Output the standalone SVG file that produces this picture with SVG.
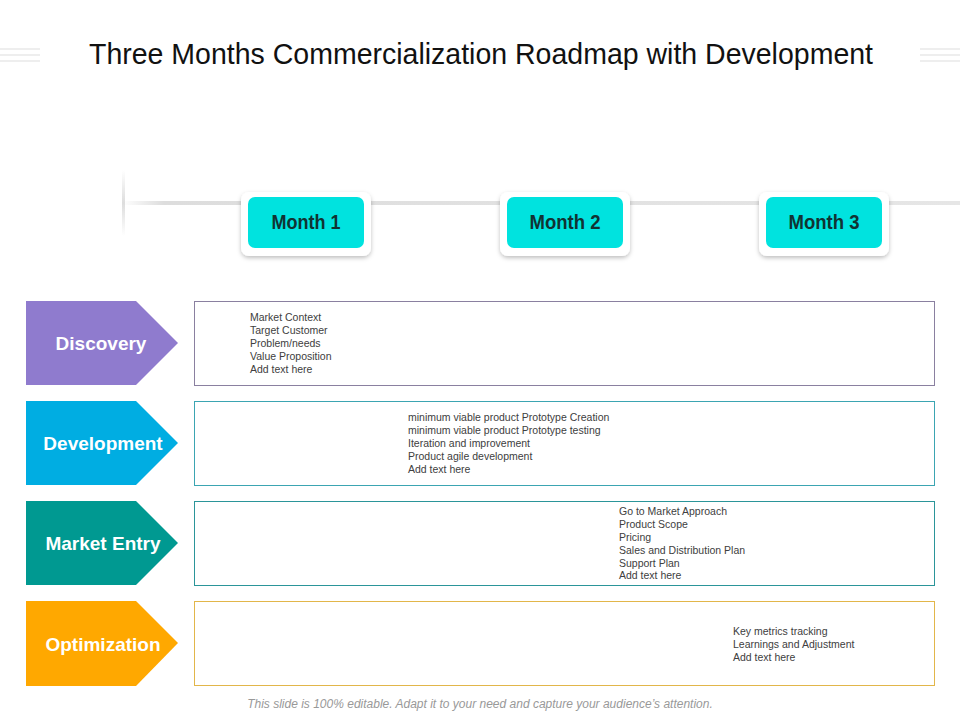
<svg xmlns="http://www.w3.org/2000/svg" width="960" height="720" viewBox="0 0 960 720">
<defs>
<style>
.t{font-family:"Liberation Sans",Arial,sans-serif;font-size:10.5px;fill:#404040}
.lab{font-family:"Liberation Sans",Arial,sans-serif;font-size:19px;font-weight:bold;fill:#fff}
.mon{font-family:"Liberation Sans",Arial,sans-serif;font-size:20px;font-weight:bold;fill:#113333}
.box{fill:#fff;stroke-width:1}
</style>
<filter id="sh" x="-20%" y="-20%" width="140%" height="150%"><feDropShadow dx="0" dy="2" stdDeviation="2" flood-color="#000" flood-opacity="0.25"/></filter>
<linearGradient id="hl" x1="0" x2="1"><stop offset="0" stop-color="#ddd" stop-opacity="0"/><stop offset="0.05" stop-color="#ddd"/><stop offset="1" stop-color="#e6e6e6"/></linearGradient>
<linearGradient id="vl" x1="0" y1="0" x2="0" y2="1"><stop offset="0" stop-color="#ddd" stop-opacity="0"/><stop offset="0.5" stop-color="#ddd"/><stop offset="1" stop-color="#ddd" stop-opacity="0"/></linearGradient>
</defs>
<rect width="960" height="720" fill="#fff"/>
<g id="decor">
<rect x="0" y="48" width="40" height="2" fill="#eee"/><rect x="0" y="54" width="40" height="2" fill="#eee"/><rect x="0" y="60" width="40" height="2" fill="#eee"/>
<rect x="920" y="48" width="40" height="2" fill="#eee"/><rect x="920" y="54" width="40" height="2" fill="#eee"/><rect x="920" y="60" width="40" height="2" fill="#eee"/>
<rect x="122" y="201" width="838" height="4" fill="url(#hl)"/>
<rect x="122" y="170" width="3" height="66" fill="url(#vl)"/>
</g>
<text x="481" y="64" text-anchor="middle" font-family="Liberation Sans,Arial,sans-serif" font-size="29" fill="#111" textLength="784" lengthAdjust="spacingAndGlyphs">Three Months Commercialization Roadmap with Development</text>
<g id="month1"><rect x="241" y="192" width="130" height="64" rx="8" fill="#fff" filter="url(#sh)"/><rect x="248" y="197" width="116" height="51" rx="7" fill="#00e3df"/><text class="mon" x="306" y="229" text-anchor="middle" textLength="69" lengthAdjust="spacingAndGlyphs">Month 1</text></g>
<g id="month2"><rect x="500" y="192" width="130" height="64" rx="8" fill="#fff" filter="url(#sh)"/><rect x="507" y="197" width="116" height="51" rx="7" fill="#00e3df"/><text class="mon" x="565" y="229" text-anchor="middle" textLength="71" lengthAdjust="spacingAndGlyphs">Month 2</text></g>
<g id="month3"><rect x="759" y="192" width="130" height="64" rx="8" fill="#fff" filter="url(#sh)"/><rect x="766" y="197" width="116" height="51" rx="7" fill="#00e3df"/><text class="mon" x="824" y="229" text-anchor="middle" textLength="71" lengthAdjust="spacingAndGlyphs">Month 3</text></g>
<g id="connectors"/>
<g id="discovery"><polygon points="26,301 136,301 178,343 136,385 26,385" fill="#8f7bce"/><text class="lab" x="101" y="350" text-anchor="middle">Discovery</text></g>
<g id="discovery-box"><rect class="box" x="194.5" y="301.5" width="740" height="84" stroke="#8a80a0"/>
<text class="t" x="250" y="321">Market Context</text><text class="t" x="250" y="334">Target Customer</text><text class="t" x="250" y="347">Problem/needs</text><text class="t" x="250" y="360">Value Proposition</text><text class="t" x="250" y="373">Add text here</text></g>
<g id="development"><polygon points="26,401 136,401 178,443 136,485 26,485" fill="#00ade2"/><text class="lab" x="103" y="450" text-anchor="middle">Development</text></g>
<g id="development-box"><rect class="box" x="194.5" y="401.5" width="740" height="84" stroke="#3ba5b2"/>
<text class="t" x="408" y="421">minimum  viable product Prototype Creation</text><text class="t" x="408" y="434">minimum  viable product Prototype testing</text><text class="t" x="408" y="447">Iteration and improvement</text><text class="t" x="408" y="460">Product agile development</text><text class="t" x="408" y="473">Add text here</text></g>
<g id="market-entry"><polygon points="26,501 136,501 178,543 136,585 26,585" fill="#009991"/><text class="lab" x="103" y="550" text-anchor="middle">Market Entry</text></g>
<g id="market-entry-box"><rect class="box" x="194.5" y="501.5" width="740" height="84" stroke="#2b9599"/>
<text class="t" x="619" y="515">Go to Market Approach</text><text class="t" x="619" y="528">Product Scope</text><text class="t" x="619" y="541">Pricing</text><text class="t" x="619" y="554">Sales and Distribution Plan</text><text class="t" x="619" y="567">Support Plan</text><text class="t" x="619" y="579">Add text here</text></g>
<g id="optimization"><polygon points="26,601 136,601 178,643 136,686 26,686" fill="#ffa800"/><text class="lab" x="103" y="651" text-anchor="middle">Optimization</text></g>
<g id="optimization-box"><rect class="box" x="194.5" y="601.5" width="740" height="84" stroke="#e2b64a"/>
<text class="t" x="733" y="635">Key metrics tracking</text><text class="t" x="733" y="648">Learnings and Adjustment</text><text class="t" x="733" y="661">Add text here</text></g>
<text x="480" y="708" text-anchor="middle" font-family="Liberation Sans,Arial,sans-serif" font-size="12" font-style="italic" fill="#999">This slide is 100% editable. Adapt it to your need and capture your audience’s attention.</text>
</svg>
